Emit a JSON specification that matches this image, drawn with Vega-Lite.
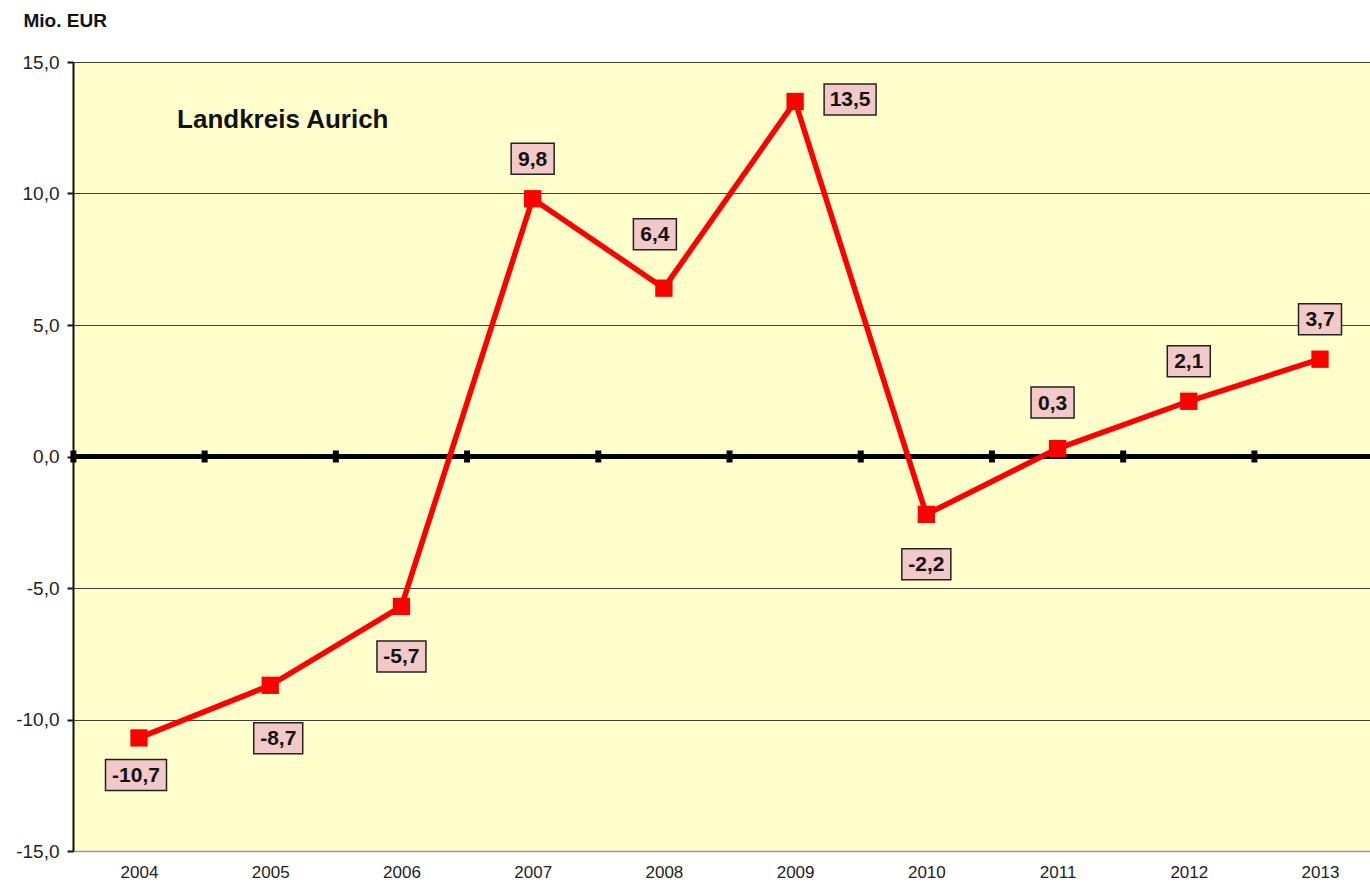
{
  "$schema": "https://vega.github.io/schema/vega-lite/v6.json",
  "width": 1297,
  "height": 789,
  "autosize": {"type": "none"},
  "padding": {"left": 73, "top": 62, "right": 0, "bottom": 33},
  "background": "white",
  "config": {
    "view": {"stroke": null, "fill": "#ffffcc"},
    "font": "Liberation Sans",
    "locale": {"number": {"decimal": ",", "thousands": ".", "grouping": [3], "currency": ["", " €"], "minus": "-"}}
  },
  "data": {
    "values": [
      {"year": 2004, "value": -10.7},
      {"year": 2005, "value": -8.7},
      {"year": 2006, "value": -5.7},
      {"year": 2007, "value": 9.8},
      {"year": 2008, "value": 6.4},
      {"year": 2009, "value": 13.5},
      {"year": 2010, "value": -2.2},
      {"year": 2011, "value": 0.3},
      {"year": 2012, "value": 2.1},
      {"year": 2013, "value": 3.7}
    ]
  },
  "encoding": {
    "x": {
      "field": "year", "type": "quantitative",
      "scale": {"domain": [2003.497, 2013.381], "nice": false, "zero": false},
      "axis": {
        "values": [2004, 2005, 2006, 2007, 2008, 2009, 2010, 2011, 2012, 2013],
        "format": "d", "title": null, "grid": false, "ticks": false,
        "domain": true, "domainColor": "#999999", "domainWidth": 1.5,
        "labelFontSize": 17, "labelColor": "#222222", "labelPadding": 13
      }
    },
    "y": {
      "field": "value", "type": "quantitative",
      "scale": {"domain": [-15, 15], "nice": false},
      "axis": {
        "values": [-15, -10, -5, 0, 5, 10, 15],
        "format": ".1f",
        "grid": true,
        "gridColor": {"condition": {"test": "datum.value == -15", "value": "#999999"}, "value": "#404035"},
        "gridWidth": 1.2,
        "tickSize": 6, "tickColor": "#111111", "tickWidth": 2,
        "domainColor": "#111111", "domainWidth": 2,
        "labelFontSize": 19, "labelColor": "#222222", "labelPadding": 8,
        "title": "Mio. EUR", "titleAngle": 0, "titleX": -50, "titleY": -42,
        "titleAlign": "left", "titleBaseline": "middle",
        "titleFontSize": 19, "titleFontWeight": "bold", "titleColor": "#111111"
      }
    }
  },
  "layer": [
    {
      "data": {"values": [{"z": 0}]},
      "mark": {"type": "rule", "color": "#000000", "strokeWidth": 5},
      "encoding": {"x": null, "y": {"field": "z", "type": "quantitative"}}
    },
    {
      "mark": {"type": "tick", "orient": "vertical", "color": "#000000", "size": 12, "thickness": 6, "xOffset": -65.6, "opacity": 1},
      "encoding": {"y": {"datum": 0}}
    },
    {
      "mark": {"type": "line", "color": "#ff0000", "strokeWidth": 5.5}
    },
    {
      "mark": {"type": "point", "shape": "square", "filled": true, "color": "#ff0000", "size": 300, "opacity": 1}
    },
    {
      "transform": [{"filter": {"field": "year", "oneOf": [2004]}}],
      "layer": [
        {"mark": {"type": "point", "filled": true, "fill": "#f2c8c8", "stroke": "#222222", "strokeWidth": 1.5, "opacity": 1, "size": 2500, "xOffset": -3, "yOffset": 37},
         "encoding": {"shape": {"condition": [{"test": "datum.value <= -10", "value": "M-1.22,-0.62L1.22,-0.62L1.22,0.62L-1.22,0.62Z"}, {"test": "datum.value >= 10", "value": "M-1.04,-0.62L1.04,-0.62L1.04,0.62L-1.04,0.62Z"}, {"test": "datum.value < 0", "value": "M-0.98,-0.62L0.98,-0.62L0.98,0.62L-0.98,0.62Z"}], "value": "M-0.86,-0.62L0.86,-0.62L0.86,0.62L-0.86,0.62Z"}}},
        {"mark": {"type": "text", "fontSize": 21, "fontWeight": "bold", "color": "#111111", "align": "center", "baseline": "middle", "xOffset": -3, "yOffset": 38},
         "encoding": {"text": {"field": "value", "type": "quantitative", "format": ".1f"}}}
      ]
    },
    {
      "transform": [{"filter": {"field": "year", "oneOf": [2005]}}],
      "layer": [
        {"mark": {"type": "point", "filled": true, "fill": "#f2c8c8", "stroke": "#222222", "strokeWidth": 1.5, "opacity": 1, "size": 2500, "xOffset": 8, "yOffset": 53},
         "encoding": {"shape": {"condition": [{"test": "datum.value <= -10", "value": "M-1.22,-0.62L1.22,-0.62L1.22,0.62L-1.22,0.62Z"}, {"test": "datum.value >= 10", "value": "M-1.04,-0.62L1.04,-0.62L1.04,0.62L-1.04,0.62Z"}, {"test": "datum.value < 0", "value": "M-0.98,-0.62L0.98,-0.62L0.98,0.62L-0.98,0.62Z"}], "value": "M-0.86,-0.62L0.86,-0.62L0.86,0.62L-0.86,0.62Z"}}},
        {"mark": {"type": "text", "fontSize": 21, "fontWeight": "bold", "color": "#111111", "align": "center", "baseline": "middle", "xOffset": 8, "yOffset": 54},
         "encoding": {"text": {"field": "value", "type": "quantitative", "format": ".1f"}}}
      ]
    },
    {
      "transform": [{"filter": {"field": "year", "oneOf": [2006, 2010]}}],
      "layer": [
        {"mark": {"type": "point", "filled": true, "fill": "#f2c8c8", "stroke": "#222222", "strokeWidth": 1.5, "opacity": 1, "size": 2500, "xOffset": 0, "yOffset": 50},
         "encoding": {"shape": {"condition": [{"test": "datum.value <= -10", "value": "M-1.22,-0.62L1.22,-0.62L1.22,0.62L-1.22,0.62Z"}, {"test": "datum.value >= 10", "value": "M-1.04,-0.62L1.04,-0.62L1.04,0.62L-1.04,0.62Z"}, {"test": "datum.value < 0", "value": "M-0.98,-0.62L0.98,-0.62L0.98,0.62L-0.98,0.62Z"}], "value": "M-0.86,-0.62L0.86,-0.62L0.86,0.62L-0.86,0.62Z"}}},
        {"mark": {"type": "text", "fontSize": 21, "fontWeight": "bold", "color": "#111111", "align": "center", "baseline": "middle", "xOffset": 0, "yOffset": 51},
         "encoding": {"text": {"field": "value", "type": "quantitative", "format": ".1f"}}}
      ]
    },
    {
      "transform": [{"filter": {"field": "year", "oneOf": [2007, 2012, 2013]}}],
      "layer": [
        {"mark": {"type": "point", "filled": true, "fill": "#f2c8c8", "stroke": "#222222", "strokeWidth": 1.5, "opacity": 1, "size": 2500, "xOffset": 0, "yOffset": -40},
         "encoding": {"shape": {"condition": [{"test": "datum.value <= -10", "value": "M-1.22,-0.62L1.22,-0.62L1.22,0.62L-1.22,0.62Z"}, {"test": "datum.value >= 10", "value": "M-1.04,-0.62L1.04,-0.62L1.04,0.62L-1.04,0.62Z"}, {"test": "datum.value < 0", "value": "M-0.98,-0.62L0.98,-0.62L0.98,0.62L-0.98,0.62Z"}], "value": "M-0.86,-0.62L0.86,-0.62L0.86,0.62L-0.86,0.62Z"}}},
        {"mark": {"type": "text", "fontSize": 21, "fontWeight": "bold", "color": "#111111", "align": "center", "baseline": "middle", "xOffset": 0, "yOffset": -39},
         "encoding": {"text": {"field": "value", "type": "quantitative", "format": ".1f"}}}
      ]
    },
    {
      "transform": [{"filter": {"field": "year", "oneOf": [2008]}}],
      "layer": [
        {"mark": {"type": "point", "filled": true, "fill": "#f2c8c8", "stroke": "#222222", "strokeWidth": 1.5, "opacity": 1, "size": 2500, "xOffset": -9, "yOffset": -54},
         "encoding": {"shape": {"condition": [{"test": "datum.value <= -10", "value": "M-1.22,-0.62L1.22,-0.62L1.22,0.62L-1.22,0.62Z"}, {"test": "datum.value >= 10", "value": "M-1.04,-0.62L1.04,-0.62L1.04,0.62L-1.04,0.62Z"}, {"test": "datum.value < 0", "value": "M-0.98,-0.62L0.98,-0.62L0.98,0.62L-0.98,0.62Z"}], "value": "M-0.86,-0.62L0.86,-0.62L0.86,0.62L-0.86,0.62Z"}}},
        {"mark": {"type": "text", "fontSize": 21, "fontWeight": "bold", "color": "#111111", "align": "center", "baseline": "middle", "xOffset": -9, "yOffset": -53},
         "encoding": {"text": {"field": "value", "type": "quantitative", "format": ".1f"}}}
      ]
    },
    {
      "transform": [{"filter": {"field": "year", "oneOf": [2011]}}],
      "layer": [
        {"mark": {"type": "point", "filled": true, "fill": "#f2c8c8", "stroke": "#222222", "strokeWidth": 1.5, "opacity": 1, "size": 2500, "xOffset": -5, "yOffset": -46},
         "encoding": {"shape": {"condition": [{"test": "datum.value <= -10", "value": "M-1.22,-0.62L1.22,-0.62L1.22,0.62L-1.22,0.62Z"}, {"test": "datum.value >= 10", "value": "M-1.04,-0.62L1.04,-0.62L1.04,0.62L-1.04,0.62Z"}, {"test": "datum.value < 0", "value": "M-0.98,-0.62L0.98,-0.62L0.98,0.62L-0.98,0.62Z"}], "value": "M-0.86,-0.62L0.86,-0.62L0.86,0.62L-0.86,0.62Z"}}},
        {"mark": {"type": "text", "fontSize": 21, "fontWeight": "bold", "color": "#111111", "align": "center", "baseline": "middle", "xOffset": -5, "yOffset": -45},
         "encoding": {"text": {"field": "value", "type": "quantitative", "format": ".1f"}}}
      ]
    },
    {
      "transform": [{"filter": {"field": "year", "oneOf": [2009]}}],
      "layer": [
        {"mark": {"type": "point", "filled": true, "fill": "#f2c8c8", "stroke": "#222222", "strokeWidth": 1.5, "opacity": 1, "size": 2500, "xOffset": 55, "yOffset": -2},
         "encoding": {"shape": {"condition": [{"test": "datum.value <= -10", "value": "M-1.22,-0.62L1.22,-0.62L1.22,0.62L-1.22,0.62Z"}, {"test": "datum.value >= 10", "value": "M-1.04,-0.62L1.04,-0.62L1.04,0.62L-1.04,0.62Z"}, {"test": "datum.value < 0", "value": "M-0.98,-0.62L0.98,-0.62L0.98,0.62L-0.98,0.62Z"}], "value": "M-0.86,-0.62L0.86,-0.62L0.86,0.62L-0.86,0.62Z"}}},
        {"mark": {"type": "text", "fontSize": 21, "fontWeight": "bold", "color": "#111111", "align": "center", "baseline": "middle", "xOffset": 55, "yOffset": -1},
         "encoding": {"text": {"field": "value", "type": "quantitative", "format": ".1f"}}}
      ]
    },
    {
      "data": {"values": [{"year": 2004.29, "value": 12.78, "label": "Landkreis Aurich"}]},
      "mark": {"type": "text", "fontSize": 26, "fontWeight": "bold", "color": "#111111", "align": "left", "baseline": "middle"},
      "encoding": {
        "text": {"field": "label", "type": "nominal"}
      }
    }
  ]
}
